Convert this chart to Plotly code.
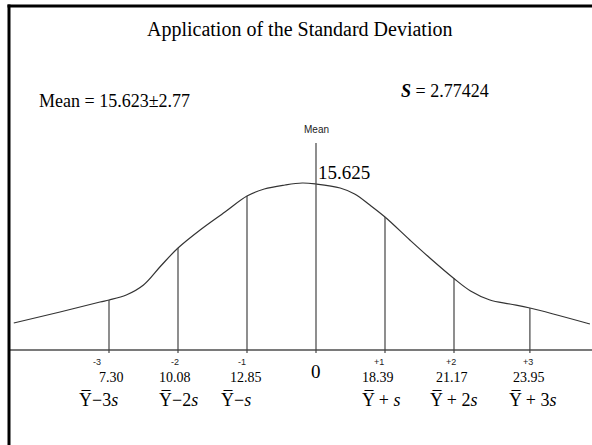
import plotly.graph_objects as go

# ---- data ----
sd_units = [-3, -2, -1, 0, 1, 2, 3]
sd_pos = [-3, -2, -1, 0, 1, 2, 3.1]          # horizontal positions of the guide lines
sd_labels = ["-3", "-2", "-1", "", "+1", "+2", "+3"]
value_labels = ["7.30", "10.08", "12.85", "", "18.39", "21.17", "23.95"]
formula_labels = ["Y\u0305\u22123<i>s</i>", "Y\u0305\u22122<i>s</i>", "Y\u0305\u2212<i>s</i>", "",
                  "Y\u0305 + <i>s</i>", "Y\u0305 + 2<i>s</i>", "Y\u0305 + 3<i>s</i>"]
line_heights = [50, 102, 154, 207, 133, 72, 42]   # top of each guide line (curve height; mean line taller)

curve_x = [-4.38, -3.71, -3.13, -3.0, -2.75, -2.5, -2.25, -2.0, -1.68, -1.32, -1.0,
           -0.75, -0.45, -0.2, 0.0, 0.35, 0.56, 0.78, 1.0, 1.36, 1.65, 1.99, 2.24,
           2.52, 2.81, 3.1, 3.97]
curve_y = [27, 38, 48, 50, 55, 65, 84, 102, 120, 138, 154, 161, 165, 167, 166, 162, 156,
           145, 133, 110, 92, 72, 59, 50, 46, 42, 26]

title_text = "Application of the Standard Deviation"
mean_text = "Mean = 15.623\u00b12.77"
s_text = "<b><i>S</i></b> = 2.77424"
mean_value = "15.625"

W, H = 592, 445
X0, XS = 316, 69.0   # pixel of 0, pixels per sd
Y0 = 350             # pixel of axis line

fig = go.Figure()
fig.add_trace(go.Scatter(x=curve_x, y=curve_y, mode="lines",
                         line=dict(color="#333333", width=1.2, shape="spline", smoothing=1.0),
                         hoverinfo="skip", showlegend=False))

serif = "Liberation Serif, Times New Roman, serif"
sans = "Liberation Sans, Arial, sans-serif"

shapes = []
# axis line
shapes.append(dict(type="line", xref="paper", yref="y", x0=10 / W, x1=1, y0=0, y1=0,
                   line=dict(color="#7a7a7a", width=2)))
# guide lines
for p, h in zip(sd_pos, line_heights):
    shapes.append(dict(type="line", xref="x", yref="y", x0=p, x1=p, y0=-3, y1=h,
                       line=dict(color="#444444", width=1.2)))
# frame
shapes.append(dict(type="line", xref="paper", yref="paper", x0=9 / W, x1=9 / W, y0=0, y1=1 - 4.5 / H,
                   line=dict(color="black", width=3)))
shapes.append(dict(type="line", xref="paper", yref="paper", x0=7.5 / W, x1=1, y0=1 - 6 / H, y1=1 - 6 / H,
                   line=dict(color="black", width=3)))

ann = []
def pap(px, py):
    return px / W, 1 - py / H

tx, ty = pap(299, 30)
ann.append(dict(text=title_text, x=tx, y=ty, xref="paper", yref="paper", showarrow=False,
                xanchor="center", yanchor="middle", font=dict(family=serif, size=20, color="black")))
tx, ty = pap(37, 101)
ann.append(dict(text=mean_text, x=tx, y=ty, xref="paper", yref="paper", showarrow=False,
                xanchor="left", yanchor="middle", font=dict(family=serif, size=18, color="black")))
tx, ty = pap(399, 91)
ann.append(dict(text=s_text, x=tx, y=ty, xref="paper", yref="paper", showarrow=False,
                xanchor="left", yanchor="middle", font=dict(family=serif, size=18, color="black")))
# "Mean" label above mean line
ann.append(dict(text="Mean", x=0, y=Y0 - 129, xref="x", yref="y", showarrow=False,
                xanchor="center", yanchor="middle", font=dict(family=sans, size=10, color="#222")))
ann.append(dict(text=mean_value, x=0, y=Y0 - 172, xref="x", yref="y", showarrow=False, xshift=0,
                xanchor="left", yanchor="middle", font=dict(family=serif, size=19, color="black")))
ann.append(dict(text="0", x=0, y=Y0 - 371, xref="x", yref="y", showarrow=False,
                xanchor="center", yanchor="middle", font=dict(family=serif, size=19, color="black")))

sd_shift = [-12, -3, -5, 0, -6, -3, -2]
val_shift = [2, -3, -1, 0, -7, -2, -1]
form_shift = [-11, 0, -11, 0, -4, 0, 3]
for p, sl, vl, fl, a, b, c in zip(sd_pos, sd_labels, value_labels, formula_labels,
                                    sd_shift, val_shift, form_shift):
    if sl:
        ann.append(dict(text=sl, x=p, y=Y0 - 362, xref="x", yref="y", showarrow=False, xshift=a,
                        xanchor="center", yanchor="middle", font=dict(family=sans, size=9, color="#222")))
    if vl:
        ann.append(dict(text=vl, x=p, y=Y0 - 377, xref="x", yref="y", showarrow=False, xshift=b,
                        xanchor="center", yanchor="middle", font=dict(family=serif, size=14, color="black")))
    if fl:
        ann.append(dict(text=fl, x=p, y=Y0 - 400, xref="x", yref="y", showarrow=False, xshift=c,
                        xanchor="center", yanchor="middle", font=dict(family=serif, size=18, color="black")))

fig.update_layout(
    width=W, height=H,
    margin=dict(l=0, r=0, t=0, b=0),
    paper_bgcolor="white", plot_bgcolor="white",
    xaxis=dict(range=[(0 - X0) / XS, (W - X0) / XS], visible=False, fixedrange=True),
    yaxis=dict(range=[Y0 - H, Y0], visible=False, fixedrange=True),
    shapes=shapes, annotations=ann, showlegend=False,
)
fig.write_html("out.html", config={"displayModeBar": False},
               post_script="document.body.style.margin='0';document.body.style.overflow='hidden';")
